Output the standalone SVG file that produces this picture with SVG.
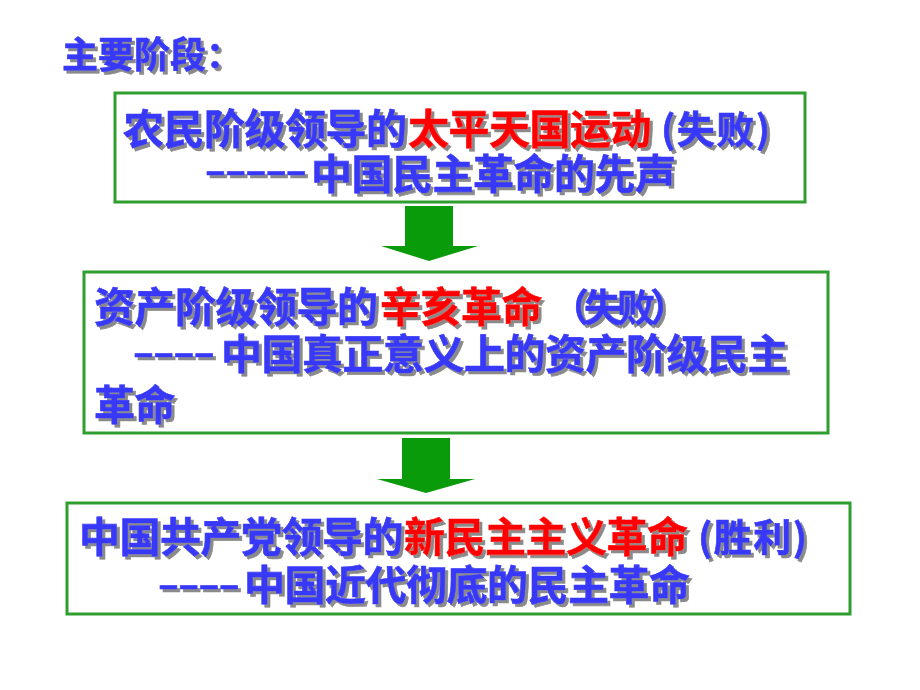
<svg xmlns="http://www.w3.org/2000/svg" width="920" height="690" viewBox="0 0 920 690">
<defs>
<filter id="sh" x="-5%" y="-20%" width="110%" height="150%">
<feOffset in="SourceAlpha" dx="3" dy="3" result="o"/>
<feFlood flood-color="#8a8a8a"/>
<feComposite in2="o" operator="in" result="s"/>
<feMerge><feMergeNode in="s"/><feMergeNode in="SourceGraphic"/></feMerge>
</filter>
</defs>
<style>
.t{font-family:"Noto Sans CJK SC","Noto Sans CJK TC",sans-serif;font-weight:700;font-size:41px;letter-spacing:-0.5px;fill:#3838F8;stroke:#3838F8;stroke-width:0.6;filter:url(#sh)}
.p{font-size:38px;letter-spacing:1.5px}
.fp{font-size:38px;letter-spacing:-5px}
.d{font-family:"Liberation Sans",sans-serif;font-weight:700;font-size:34px;letter-spacing:1.3px;fill:#3838F8;stroke:#3838F8;stroke-width:0.7;filter:url(#sh)}
.r{fill:#FF0000;stroke:#FF0000}
.box{fill:#fff;stroke:#2E9E2E;stroke-width:3}
.arr{fill:#0A9B0A}
</style>
<rect width="920" height="690" fill="#fff"/>
<g id="title"><text class="t" x="62" y="68" style="font-size:36px;letter-spacing:0">主要阶段：</text></g>
<g id="node1">
<rect class="box" x="115" y="93" width="690" height="109"/>
<text class="t" x="123" y="144">农民阶级领导的</text>
<text class="t r" x="408" y="144">太平天国运动</text>
<text class="t p" x="661" y="143">(失败)</text>
<text class="d" x="206" y="182">–––––</text>
<text class="t" x="311" y="189">中国民主革命的先声</text>
</g>
<g id="node2">
<rect class="box" x="84" y="272" width="744" height="161"/>
<text class="t" x="94" y="322">资产阶级领导的</text>
<text class="t r" x="380" y="322">辛亥革命</text>
<text class="t fp" x="551" y="321">（失败）</text>
<text class="d" x="134" y="364">––––</text>
<text class="t" x="221" y="369">中国真正意义上的资产阶级民主</text>
<text class="t" x="94" y="420">革命</text>
</g>
<g id="node3">
<rect class="box" x="67" y="503" width="783" height="111"/>
<text class="t" x="79" y="552">中国共产党领导的</text>
<text class="t r" x="404" y="552">新民主主义革命</text>
<text class="t p" x="698" y="551">(胜利)</text>
<text class="d" x="159" y="596">––––</text>
<text class="t" x="244" y="600">中国近代彻底的民主革命</text>
</g>
<g id="connectors">
<polygon class="arr" points="405,206 453,206 453,246 478,246 429,261 381,246 405,246"/>
<polygon class="arr" points="402,438 450,438 450,479 475,479 426,493 377,479 402,479"/>
</g>
</svg>
